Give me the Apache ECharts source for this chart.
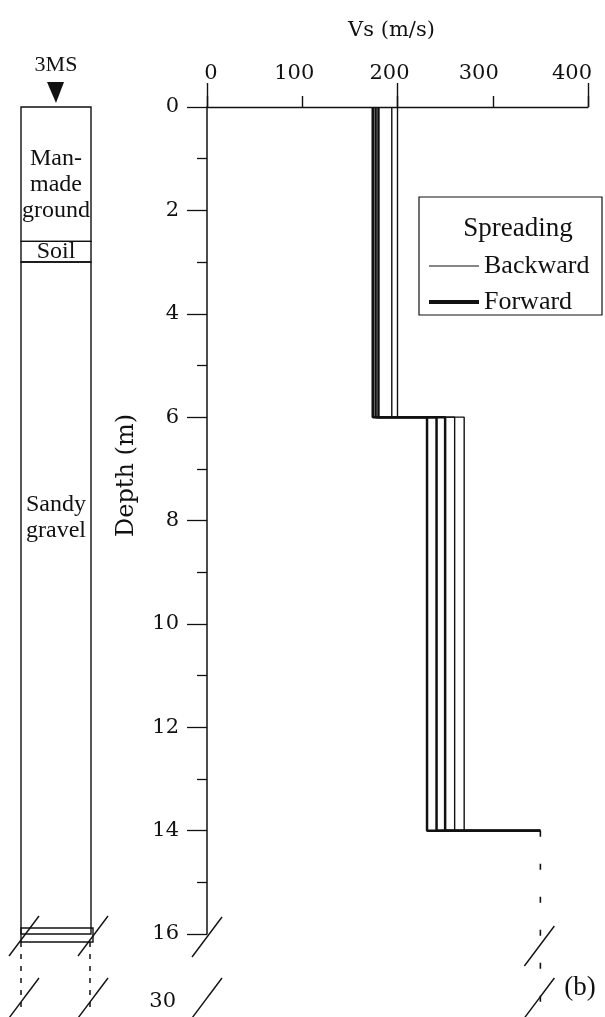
<!DOCTYPE html>
<html>
<head>
<meta charset="utf-8">
<script src="https://cdn.jsdelivr.net/npm/echarts@6/dist/echarts.min.js"></script>
<style>
  html, body { margin: 0; padding: 0; background: #fff; }
  #chart { width: 605px; height: 1017px; }
</style>
</head>
<body>
<div id="chart"></div>
<script>
// Vs profile: layer top depths (m) and shear-wave velocity per layer (m/s)
const layerDepths = [0, 6, 14];
const backwardProfiles = [
  [194, 260, 350],
  [200, 270, 350]
];
const forwardProfiles = [
  [174, 231, 350],
  [177, 241, 350],
  [180, 250, 350]
];

// Axis ticks and labels
const vsTicks = [0, 100, 200, 300, 400];
const depthTicks = [0, 2, 4, 6, 8, 10, 12, 14, 16];
const breakDepthLabel = '30';
const panelLabel = '(b)';

// Borehole log 3MS
const boreholeName = '3MS';
const strataNames = ['Man-\nmade\nground', 'Soil', 'Sandy\ngravel'];
const strataTop = [0, 2.6, 3.0];
const strataBottom = [2.6, 3.0, 16];

// Layout helpers (not data)
const strataLabelDepth = [1.5, 2.8, 7.95];
const INK = '#111';
const AXIS_FONT = 'DejaVu Serif';
const TEXT_FONT = 'Liberation Serif';
const dashedEndDepth = 17.65;   // continuation below the axis break
// per-label horizontal nudges of the Vs tick labels (px)
const vsLabelShift = [4, -8, -8, -14, -16];

function stepPoints(v) {
  const pts = [];
  for (let i = 0; i < layerDepths.length; i++) {
    pts.push([v[i], layerDepths[i]]);
    if (i + 1 < layerDepths.length) pts.push([v[i], layerDepths[i + 1]]);
  }
  return pts;
}

const series = [];
backwardProfiles.forEach(p => series.push({
  name: 'Backward', type: 'line', xAxisIndex: 0, yAxisIndex: 0,
  data: stepPoints(p), symbol: 'none', animation: false,
  lineStyle: { color: INK, width: 1.4 }, itemStyle: { color: INK }
}));
forwardProfiles.forEach(p => series.push({
  name: 'Forward', type: 'line', xAxisIndex: 0, yAxisIndex: 0,
  data: stepPoints(p), symbol: 'none', animation: false,
  lineStyle: { color: INK, width: 2.5 }, itemStyle: { color: INK }
}));
// Half-space velocity continues below the last interface (dashed)
const halfSpaceVs = backwardProfiles[0][layerDepths.length - 1];
series.push({
  name: 'halfspace', type: 'line', xAxisIndex: 0, yAxisIndex: 0,
  data: [[halfSpaceVs, layerDepths[layerDepths.length - 1]], [halfSpaceVs, dashedEndDepth]],
  symbol: 'none', clip: false, animation: false, silent: true,
  lineStyle: { color: INK, width: 1.6, type: [6, 27] }
});

// Borehole strata column
series.push({
  type: 'custom', xAxisIndex: 2, yAxisIndex: 1, animation: false, silent: true,
  data: strataTop.map((t, i) => [t, strataBottom[i], strataLabelDepth[i]]),
  renderItem: function (params, api) {
    const i = params.dataIndex;
    const a = api.coord([0, api.value(0)]);
    const b = api.coord([1, api.value(1)]);
    const ly = api.coord([0.5, api.value(2)]);
    return {
      type: 'group',
      children: [
        { type: 'rect', shape: { x: a[0], y: a[1], width: b[0] - a[0], height: b[1] - a[1] },
          style: { fill: 'none', stroke: INK, lineWidth: 1.4 } },
        { type: 'text', style: {
            text: strataNames[i], x: ly[0], y: ly[1], align: 'center', verticalAlign: 'middle',
            font: '24px "' + TEXT_FONT + '"', lineHeight: 26, fill: INK } }
      ]
    };
  }
});

const chart = echarts.init(document.getElementById('chart'), null, { renderer: 'canvas' });

const hiddenMarker = { color: 'rgba(0,0,0,0)', borderColor: 'rgba(0,0,0,0)', borderWidth: 0 };

chart.setOption({
  backgroundColor: '#fff',
  animation: false,
  grid: [
    { left: 207, right: 17, top: 107, bottom: 83 },
    { left: 21, width: 70, top: 107, bottom: 83 }
  ],
  xAxis: [
    {
      gridIndex: 0, type: 'value', position: 'top', min: 0, max: 400, interval: 100,
      name: 'Vs (m/s)', nameLocation: 'middle', nameGap: 66,
      nameTextStyle: { fontFamily: AXIS_FONT, fontSize: 21, color: INK, padding: [0, 12, 0, 0] },
      axisLine: { show: true, onZero: false, lineStyle: { color: INK, width: 1.3 } },
      axisTick: { show: true, inside: false, length: 11, lineStyle: { color: INK, width: 1.4 } },
      axisLabel: {
        margin: 23, color: INK, fontFamily: AXIS_FONT, fontSize: 21,
        formatter: (v) => '{s' + vsTicks.indexOf(v) + '|' + v + '}',
        rich: Object.fromEntries(vsLabelShift.map((d, i) => ['s' + i, {
          fontFamily: AXIS_FONT, fontSize: 21, color: INK,
          padding: d >= 0 ? [0, 0, 0, 2 * d] : [0, -2 * d, 0, 0]
        }]))
      },
      splitLine: { show: false }
    },
    {
      gridIndex: 0, type: 'value', position: 'top', min: 0, max: 400, interval: 200,
      axisLine: { show: false, onZero: false },
      axisTick: { show: true, length: 24, lineStyle: { color: INK, width: 1.4 } },
      axisLabel: { show: false }, splitLine: { show: false }
    },
    { gridIndex: 1, type: 'value', min: 0, max: 1, show: false }
  ],
  yAxis: [
    {
      gridIndex: 0, type: 'value', inverse: true, min: 0, max: 16, interval: 2,
      name: 'Depth (m)', nameLocation: 'middle', nameGap: 68, nameRotate: 90,
      nameTextStyle: { fontFamily: AXIS_FONT, fontSize: 24, color: INK, padding: [0, 0, 0, 90] },
      axisLine: { show: true, onZero: false, lineStyle: { color: INK, width: 1.5 } },
      axisTick: { show: true, length: 20, lineStyle: { color: INK, width: 1.3 } },
      minorTick: { show: true, splitNumber: 2, length: 10, lineStyle: { color: INK, width: 1.3 } },
      axisLabel: { margin: 28, color: INK, fontFamily: AXIS_FONT, fontSize: 21,
                   showMinLabel: true, showMaxLabel: true },
      splitLine: { show: false }, minorSplitLine: { show: false }
    },
    { gridIndex: 1, type: 'value', inverse: true, min: 0, max: 16, show: false }
  ],
  legend: {
    show: true, orient: 'vertical', left: 422, top: 248, itemWidth: 50, itemHeight: 10,
    itemGap: 10, selectedMode: false,
    textStyle: { fontFamily: TEXT_FONT, fontSize: 26, color: INK, padding: [0, 0, 0, 0] },
    data: [
      { name: 'Backward', lineStyle: { width: 1.2, color: INK }, itemStyle: hiddenMarker },
      { name: 'Forward', lineStyle: { width: 4, color: INK }, itemStyle: hiddenMarker }
    ]
  },
  series: series
});

// Decorations: axis breaks, borehole head, legend frame and title
const px = (x, y) => chart.convertToPixel({ xAxisIndex: 0, yAxisIndex: 0 }, [x, y]);
const origin = px(0, 0);
const y16 = px(0, depthTicks[depthTicks.length - 1])[1];
const colTop = chart.convertToPixel({ xAxisIndex: 2, yAxisIndex: 1 }, [0, 0]);
const colBot = chart.convertToPixel({ xAxisIndex: 2, yAxisIndex: 1 }, [1, 16]);
const cL = colTop[0], cR = colBot[0], cMid = (cL + cR) / 2;
const xHalf = px(halfSpaceVs, 0)[0];
const yBreak2 = y16 + 64;

function slash(cx, cy) {
  return { type: 'line', shape: { x1: cx - 15, y1: cy + 20, x2: cx + 15, y2: cy - 20 },
           style: { stroke: INK, lineWidth: 1.4 }, silent: true };
}
function vdash(x, y1, y2, dash) {
  return { type: 'line', shape: { x1: x, y1: y1, x2: x, y2: y2 },
           style: { stroke: INK, lineWidth: 1.5, lineDash: dash }, silent: true };
}

chart.setOption({
  graphic: [
    // borehole head
    { type: 'text', silent: true, style: { text: boreholeName, x: cMid, y: colTop[1] - 42,
        align: 'center', verticalAlign: 'middle', font: '22px "' + TEXT_FONT + '"', fill: INK } },
    { type: 'polygon', silent: true, shape: { points: [[cMid - 9, colTop[1] - 25], [cMid + 8, colTop[1] - 25], [cMid, colTop[1] - 4]] },
      style: { fill: INK } },
    // borehole bottom cap and continuation
    { type: 'rect', silent: true, shape: { x: cL, y: y16 - 6, width: cR - cL + 2, height: 14 },
      style: { fill: 'none', stroke: INK, lineWidth: 1.4 } },
    vdash(cL, y16 + 8, 1012, [5, 7]),
    vdash(cR - 1, y16 + 8, 1012, [5, 7]),
    slash(cL + 3, y16 + 2), slash(cR + 2, y16 + 2),
    slash(cL + 3, yBreak2), slash(cR + 2, yBreak2),
    // depth axis break
    slash(origin[0], y16 + 3), slash(origin[0], yBreak2),
    { type: 'text', silent: true, style: { text: breakDepthLabel, x: origin[0] - 31, y: y16 + 68,
        align: 'right', verticalAlign: 'middle', font: '21px "' + AXIS_FONT + '"', fill: INK } },
    // half-space break
    slash(xHalf - 1, y16 + 12), slash(xHalf - 1, yBreak2),
    { type: 'text', silent: true, style: { text: panelLabel, x: 580, y: yBreak2 - 10,
        align: 'center', verticalAlign: 'middle', font: '27px "' + TEXT_FONT + '"', fill: INK } },
    // legend frame and title
    { type: 'rect', silent: true, shape: { x: 419, y: 197, width: 183, height: 118 },
      style: { fill: 'none', stroke: INK, lineWidth: 1.2 } },
    { type: 'text', silent: true, style: { text: 'Spreading', x: 518, y: 229,
        align: 'center', verticalAlign: 'middle', font: '27px "' + TEXT_FONT + '"', fill: INK } }
  ]
});
</script>
</body>
</html>
